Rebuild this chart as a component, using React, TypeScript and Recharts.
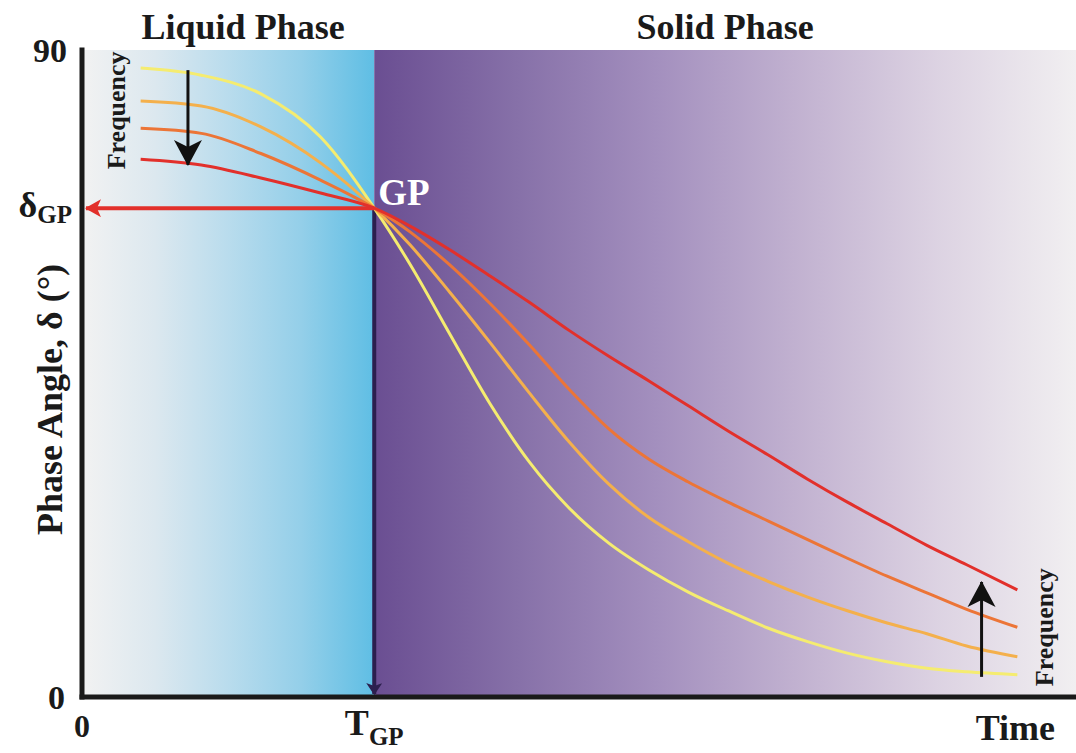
import React from 'react';
import {
    LineChart,
    Line,
    XAxis,
    YAxis,
    ReferenceArea,
    ReferenceLine,
    ReferenceDot,
} from 'recharts';

// time axis (arbitrary units, 0-100) and phase angle (deg)
const timePoints = [5.9, 12, 18, 24, 29.4, 33, 37, 41, 45, 49, 53, 57, 61, 65, 69, 73, 77, 81, 85, 89, 94.1];
const yellowDelta = [87.5, 86.5, 83.9, 77.9, 68.0, 60.2, 50.5, 40.9, 32.7, 26.3, 21.4, 17.7, 14.6, 12.0, 9.6, 7.7, 6.1, 4.9, 4.0, 3.5, 3.1];
const lightOrangeDelta = [82.9, 82.2, 79.3, 74.3, 68.0, 62.9, 56.3, 49.4, 42.3, 35.5, 29.6, 25.0, 21.6, 18.6, 16.1, 13.9, 12.0, 10.3, 8.8, 7.1, 5.6];
const orangeDelta = [79.1, 78.4, 75.6, 71.9, 68.0, 64.7, 60.1, 54.8, 49.0, 42.8, 37.3, 33.1, 29.9, 27.1, 24.5, 21.9, 19.3, 16.8, 14.5, 12.2, 9.7];
const redDelta = [74.8, 74.0, 72.2, 70.1, 68.0, 65.5, 62.2, 58.6, 54.9, 51.0, 47.4, 44.0, 40.5, 37.0, 33.7, 30.3, 27.1, 24.1, 21.1, 18.4, 14.9];

const gelTime = 29.4;
const gelDelta = 68;
const timeEnd = 100;
const timeLabelAt = 93.9;
const xTicks = [0, gelTime, timeLabelAt];
const yTicks = [0, gelDelta, 90];

// frequency arrows: [from, to]
const freqDownArrow = [{ x: 10.66, y: 87.2 }, { x: 10.66, y: 74.0 }];
const freqUpArrow = [{ x: 90.5, y: 2.8 }, { x: 90.5, y: 16.0 }];
const freqLabels = [{ x: 3.5, y: 81.6 }, { x: 96.8, y: 9.7 }];

const data = timePoints.map((t, i) => ({
    t,
    yellow: yellowDelta[i],
    lightOrange: lightOrangeDelta[i],
    orange: orangeDelta[i],
    red: redDelta[i],
}));

const FONT = '"Liberation Serif", "Times New Roman", serif';

const ArrowShape = (color: string, width: number, marker: string) => (props: any) => (
    <line
        x1={props.x1}
        y1={props.y1}
        x2={props.x2}
        y2={props.y2}
        stroke={color}
        strokeWidth={width}
        markerEnd={`url(#${marker})`}
    />
);

const YTick = ({ x, y, payload }: any) => {
    const v = payload.value;
    if (v === gelDelta) {
        return (
            <text x={x - 2} y={y + 9} textAnchor="end" fontFamily={FONT} fontWeight="bold" fill="#1a1a1a">
                <tspan fontSize={36}>δ</tspan>
                <tspan fontSize={25} dy={6}>GP</tspan>
            </text>
        );
    }
    return (
        <text x={x - (v === 0 ? 9 : 7)} y={y + 12} textAnchor="end" fontFamily={FONT} fontWeight="bold" fontSize={34} fill="#1a1a1a">
            {v}
        </text>
    );
};

const XTick = ({ x, y, payload }: any) => {
    const v = payload.value;
    if (v === gelTime) {
        return (
            <text x={x} y={y + 30} textAnchor="middle" fontFamily={FONT} fontWeight="bold" fill="#1a1a1a">
                <tspan fontSize={36}>T</tspan>
                <tspan fontSize={25} dy={10}>GP</tspan>
            </text>
        );
    }
    return (
        <text x={x} y={y + (v === 0 ? 32 : 35)} textAnchor="middle" fontFamily={FONT} fontWeight="bold" fontSize={v === 0 ? 32 : 36} fill="#1a1a1a">
            {v === 0 ? '0' : 'Time'}
        </text>
    );
};

const PhaseTitle = (text: string, dx: number) => (props: any) => {
    const vb = props.viewBox;
    return (
        <text
            x={vb.x + vb.width / 2 + dx}
            y={vb.y - 11}
            textAnchor="middle"
            fontFamily={FONT}
            fontWeight="bold"
            fontSize={36}
            fill="#1a1a1a"
        >
            {text}
        </text>
    );
};

const FreqText = (props: any) => (
    <text
        x={props.cx}
        y={props.cy}
        transform={`rotate(-90 ${props.cx} ${props.cy})`}
        textAnchor="middle"
        dominantBaseline="central"
        fontFamily={FONT}
        fontWeight="bold"
        fontSize={26}
        fill="#1a1a1a"
    >
        Frequency
    </text>
);

const GpText = (props: any) => (
    <text x={props.cx + 4} y={props.cy - 3} fontFamily={FONT} fontWeight="bold" fontSize={37} fill="#ffffff">
        GP
    </text>
);

export default function App() {
    return (
        <div style={{ width: 1076, height: 753 }}>
            <style>{'body{margin:0;}'}</style>
            <LineChart
                width={1076}
                height={753}
                data={data}
                margin={{ top: 50, right: 0, left: 22, bottom: 0 }}
            >
                <defs>
                    <linearGradient id="liquidGrad" x1="0" y1="0" x2="1" y2="0">
                        <stop offset="0%" stopColor="#f2f2f2" />
                        <stop offset="25%" stopColor="#dce8ef" />
                        <stop offset="50%" stopColor="#b9dced" />
                        <stop offset="75%" stopColor="#94cfe9" />
                        <stop offset="100%" stopColor="#5fbee4" />
                    </linearGradient>
                    <linearGradient id="solidGrad" x1="0" y1="0" x2="1" y2="0">
                        <stop offset="0%" stopColor="#6a4e92" />
                        <stop offset="20%" stopColor="#8670a8" />
                        <stop offset="40%" stopColor="#a38fbe" />
                        <stop offset="60%" stopColor="#c1b1d0" />
                        <stop offset="80%" stopColor="#dcd2e2" />
                        <stop offset="100%" stopColor="#f1eff1" />
                    </linearGradient>
                    <marker id="arrowBlack" viewBox="0 0 26 30" refX="25" refY="15" markerWidth="26" markerHeight="30" markerUnits="userSpaceOnUse" orient="auto">
                        <path d="M0,1 L26,15 L0,29 L7,15 Z" fill="#111111" />
                    </marker>
                    <marker id="arrowRed" viewBox="0 0 16 18" refX="15" refY="9" markerWidth="16" markerHeight="18" markerUnits="userSpaceOnUse" orient="auto">
                        <path d="M0,0 L16,9 L0,18 L4,9 Z" fill="#e2302b" />
                    </marker>
                    <marker id="arrowNavy" viewBox="0 0 12 16" refX="11" refY="8" markerWidth="12" markerHeight="16" markerUnits="userSpaceOnUse" orient="auto">
                        <path d="M0,0 L12,8 L0,16 L3,8 Z" fill="#2c1f4e" />
                    </marker>
                </defs>
                <ReferenceArea
                    x1={0}
                    x2={gelTime}
                    fill="url(#liquidGrad)"
                    fillOpacity={1}
                    stroke="none"
                    label={PhaseTitle('Liquid Phase', 15)}
                />
                <ReferenceArea
                    x1={gelTime}
                    x2={timeEnd}
                    fill="url(#solidGrad)"
                    fillOpacity={1}
                    stroke="none"
                    label={PhaseTitle('Solid Phase', 0)}
                />
                <XAxis
                    type="number"
                    dataKey="t"
                    domain={[0, timeEnd]}
                    ticks={xTicks}
                    tick={<XTick />}
                    tickLine={false}
                    axisLine={{ stroke: '#1a1a1a', strokeWidth: 5, strokeLinecap: 'square' }}
                    height={56}
                    interval={0}
                />
                <YAxis
                    type="number"
                    domain={[0, 90]}
                    ticks={yTicks}
                    tick={<YTick />}
                    tickLine={false}
                    axisLine={{ stroke: '#1a1a1a', strokeWidth: 5, strokeLinecap: 'square' }}
                    width={60}
                    interval={0}
                    label={(props: any) => {
                        const vb = props.viewBox;
                        const cx = vb.x + 28;
                        const cy = vb.y + vb.height / 2 + 26;
                        return (
                            <text
                                x={cx}
                                y={cy}
                                transform={`rotate(-90 ${cx} ${cy})`}
                                textAnchor="middle"
                                dominantBaseline="central"
                                fontFamily={FONT}
                                fontWeight="bold"
                                fontSize={36}
                                fill="#1a1a1a"
                            >
                                Phase Angle, δ (°)
                            </text>
                        );
                    }}
                />
                <ReferenceLine
                    segment={[{ x: gelTime, y: gelDelta }, { x: gelTime, y: 0.4 }]}
                    shape={ArrowShape('#2c1f4e', 4, 'arrowNavy')}
                />
                <Line type="monotone" dataKey="yellow" stroke="#f5ec70" strokeWidth={3} dot={false} isAnimationActive={false} />
                <Line type="monotone" dataKey="lightOrange" stroke="#f4b04c" strokeWidth={3} dot={false} isAnimationActive={false} />
                <Line type="monotone" dataKey="orange" stroke="#ec7537" strokeWidth={3} dot={false} isAnimationActive={false} />
                <Line type="monotone" dataKey="red" stroke="#e2302b" strokeWidth={3} dot={false} isAnimationActive={false} />
                <ReferenceLine
                    segment={[{ x: gelTime, y: gelDelta }, { x: 0.4, y: gelDelta }]}
                    shape={ArrowShape('#e2302b', 4, 'arrowRed')}
                />
                <ReferenceLine segment={freqDownArrow} shape={ArrowShape('#111111', 3, 'arrowBlack')} />
                <ReferenceLine segment={freqUpArrow} shape={ArrowShape('#111111', 3, 'arrowBlack')} />
                {freqLabels.map((p, i) => (
                    <ReferenceDot key={i} x={p.x} y={p.y} shape={FreqText} ifOverflow="visible" />
                ))}
                <ReferenceDot x={gelTime} y={gelDelta} shape={GpText} ifOverflow="visible" />
            </LineChart>
        </div>
    );
}
